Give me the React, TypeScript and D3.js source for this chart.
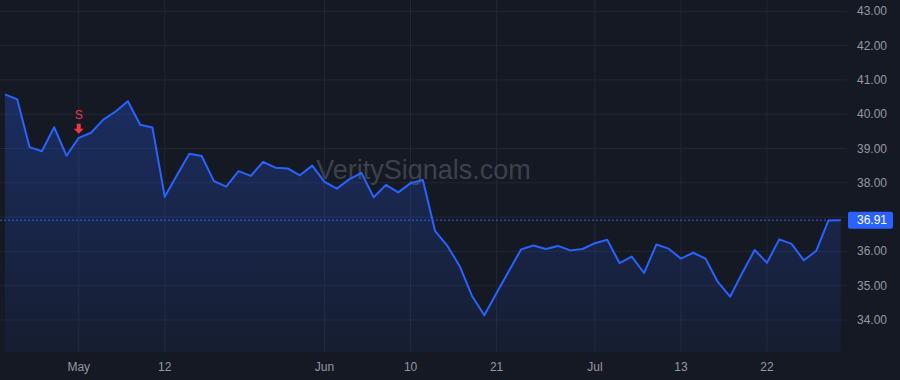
import React from "react";
import * as d3 from "d3";

const dates: string[] = [
  "2025-04-23", "2025-04-24", "2025-04-25", "2025-04-28", "2025-04-29", "2025-04-30",
  "2025-05-01", "2025-05-02", "2025-05-05", "2025-05-06", "2025-05-07", "2025-05-08", "2025-05-09",
  "2025-05-12", "2025-05-13", "2025-05-14", "2025-05-15", "2025-05-16", "2025-05-19", "2025-05-20",
  "2025-05-21", "2025-05-22", "2025-05-23", "2025-05-27", "2025-05-28", "2025-05-29",
  "2025-06-01", "2025-06-02", "2025-06-03", "2025-06-04", "2025-06-05", "2025-06-06", "2025-06-09",
  "2025-06-10", "2025-06-12", "2025-06-13", "2025-06-16", "2025-06-17", "2025-06-18", "2025-06-20",
  "2025-06-21", "2025-06-23", "2025-06-24", "2025-06-25", "2025-06-26", "2025-06-27", "2025-06-28",
  "2025-06-30", "2025-07-01", "2025-07-02", "2025-07-03", "2025-07-07", "2025-07-08", "2025-07-09",
  "2025-07-10", "2025-07-13", "2025-07-14", "2025-07-15", "2025-07-16", "2025-07-17", "2025-07-18",
  "2025-07-21", "2025-07-22", "2025-07-23", "2025-07-24", "2025-07-25", "2025-07-28", "2025-07-29",
  "2025-07-30",
];

const prices: number[] = [
  40.58, 40.43, 39.04, 38.92, 39.62, 38.79, 39.31, 39.46, 39.84, 40.08, 40.38, 39.69, 39.61,
  37.59, 38.23, 38.85, 38.78, 38.05, 37.89, 38.34, 38.2, 38.61, 38.44, 38.42, 38.22, 38.5,
  38.03, 37.83, 38.1, 38.29, 37.58, 37.94, 37.72, 37.99, 38.08, 36.59, 36.16, 35.57, 34.7,
  34.14, 34.79, 35.43, 36.06, 36.17, 36.07, 36.16, 36.03, 36.07, 36.24, 36.34, 35.66, 35.85,
  35.37, 36.2, 36.08, 35.79, 35.96, 35.79, 35.11, 34.68, 35.38, 36.04, 35.67, 36.35, 36.22,
  35.74, 36.01, 36.9, 36.91,
];

const priceTicks: number[] = [34, 35, 36, 37, 38, 39, 40, 41, 42, 43];
const timeTickDates: string[] = [
  "2025-05-01", "2025-05-12", "2025-06-01", "2025-06-10", "2025-06-21", "2025-07-01", "2025-07-13", "2025-07-22",
];
const signalDates: string[] = ["2025-05-01"];
const signalLabels: string[] = ["S"];
const watermark = "VeritySignals.com";

const W = 900;
const H = 380;
const plotRight = 841;
const plotBottom = 352;

const BG = "#151924";
const GRID = "#232733";
const TEXT = "#9598a1";
const BLUE = "#2962ff";
const RED = "#f23645";
const FONT = "'Liberation Sans', Arial, sans-serif";

export default function App() {
  const x = d3.scalePoint<string>().domain(dates).range([5, 840.7]).padding(0);
  const y = d3.scaleLinear().domain([34, 43]).range([320, 11.3]);

  const data = dates.map((d, i) => ({ d, v: prices[i] }));
  const line = d3
    .line<{ d: string; v: number }>()
    .x((p) => x(p.d) as number)
    .y((p) => y(p.v));
  const area = d3
    .area<{ d: string; v: number }>()
    .x((p) => x(p.d) as number)
    .y0(plotBottom)
    .y1((p) => y(p.v));

  const last = prices[prices.length - 1];
  const lastY = y(last);
  const maxY = y(d3.max(prices) as number);
  const fmtMonth = d3.timeFormat("%b");
  const parse = d3.timeParse("%Y-%m-%d");
  const tickLabel = (s: string) => {
    const dt = parse(s) as Date;
    return dt.getDate() === 1 ? fmtMonth(dt) : String(dt.getDate());
  };

  return (
    <svg
      width={W}
      height={H}
      style={{ position: "fixed", left: 0, top: 0, display: "block" }}
      fontFamily={FONT}
    >
      <defs>
        <linearGradient id="areaGrad" gradientUnits="userSpaceOnUse" x1={0} x2={0} y1={maxY} y2={plotBottom}>
          <stop offset="0%" stopColor={BLUE} stopOpacity={0.28} />
          <stop offset="100%" stopColor={BLUE} stopOpacity={0.06} />
        </linearGradient>
        <clipPath id="plotClip">
          <rect x={0} y={0} width={plotRight} height={plotBottom} />
        </clipPath>
      </defs>
      <rect x={0} y={0} width={W} height={H} fill={BG} />

      {/* grid */}
      {priceTicks.map((t) => (
        <line key={"h" + t} x1={0} x2={plotRight + 6} y1={y(t)} y2={y(t)} stroke={GRID} strokeWidth={1} />
      ))}
      {timeTickDates.map((t) => (
        <line key={"v" + t} x1={x(t)} x2={x(t)} y1={0} y2={plotBottom} stroke={GRID} strokeWidth={1} />
      ))}

      {/* watermark */}
      <text
        x={plotRight / 2 + 3}
        y={plotBottom / 2 - 4}
        textAnchor="middle"
        dominantBaseline="middle"
        fontSize={27}
        fill="#3d414c"
      >
        {watermark}
      </text>

      <g clipPath="url(#plotClip)">
        <path d={area(data) as string} fill="url(#areaGrad)" />
        <line x1={0} x2={plotRight} y1={lastY} y2={lastY} stroke={BLUE} strokeWidth={1} strokeDasharray="2,2" />
        <path d={line(data) as string} fill="none" stroke={BLUE} strokeWidth={2} strokeLinejoin="round" />
      </g>

      {/* signals */}
      {signalDates.map((s, i) => {
        const px = x(s) as number;
        const py = y(prices[dates.indexOf(s)]);
        const tip = py - 4;
        return (
          <g key={s}>
            <text x={px} y={py - 19} textAnchor="middle" fontSize={12} fill={RED}>
              {signalLabels[i]}
            </text>
            <path
              d={`M${px - 2},${tip - 10} L${px + 2},${tip - 10} L${px + 2},${tip - 5} L${px + 5},${tip - 5} L${px},${tip} L${px - 5},${tip - 5} L${px - 2},${tip - 5} Z`}
              fill={RED}
            />
          </g>
        );
      })}

      {/* price axis labels (hidden where the last-price label sits) */}
      {priceTicks
        .filter((t) => Math.abs(y(t) - lastY) > 14)
        .map((t) => (
          <text key={"pl" + t} x={857} y={y(t) + 4} fontSize={12} fill={TEXT}>
            {t.toFixed(2)}
          </text>
        ))}
      <rect x={848} y={lastY - 8.5} width={45} height={17} rx={2} fill={BLUE} />
      <text x={857} y={lastY + 4} fontSize={12} fill="#ffffff">
        {last.toFixed(2)}
      </text>

      {/* time axis labels */}
      {timeTickDates.map((t) => (
        <text key={"tl" + t} x={x(t)} y={371} textAnchor="middle" fontSize={12} fill={TEXT}>
          {tickLabel(t)}
        </text>
      ))}
    </svg>
  );
}
